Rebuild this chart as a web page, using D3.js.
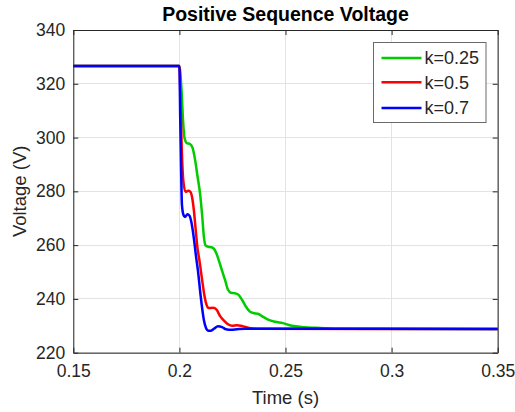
<!DOCTYPE html>
<html>
<head>
<meta charset="utf-8">
<script src="https://cdn.jsdelivr.net/npm/d3@7"></script>
<style>
  body { margin: 0; background: #fff; }
  text { font-family: "Liberation Sans", Arial, sans-serif; fill: #262626; }
</style>
</head>
<body>
<div id="chart"></div>
<script>
// data (time in s, voltage in V)
const tGreen = [0.15, 0.2, 0.2010, 0.2017, 0.2024, 0.2034, 0.2050, 0.2062, 0.2074, 0.2085, 0.2097, 0.2107, 0.2116, 0.2123, 0.2135, 0.2151, 0.2163, 0.2175, 0.2188, 0.2201, 0.2215, 0.2229, 0.2243, 0.2262, 0.2279, 0.2295, 0.2314, 0.2333, 0.2352, 0.2370, 0.2389, 0.2418, 0.2451, 0.2488, 0.2529, 0.2592, 0.2663, 0.2757, 0.35];
const vGreen = [326.6, 326.6, 317.7, 306.6, 299.9, 298.0, 297.6, 296.2, 291.7, 285.8, 279.4, 271.3, 262.7, 259.9, 259.4, 259.2, 258.6, 256.8, 253.8, 250.5, 247.1, 243.4, 242.3, 242.1, 241.5, 239.7, 237.1, 235.2, 234.7, 234.5, 233.6, 232.3, 231.5, 231.0, 230.0, 229.5, 229.2, 228.9, 228.8];

const tRed = [0.15, 0.2, 0.2005, 0.2010, 0.2015, 0.2019, 0.2029, 0.2041, 0.2052, 0.2062, 0.2069, 0.2076, 0.2085, 0.2094, 0.2107, 0.2118, 0.2128, 0.2137, 0.2158, 0.2175, 0.2191, 0.2210, 0.2229, 0.2248, 0.2272, 0.2295, 0.2333, 0.2380, 0.35];
const vRed = [326.6, 326.6, 314.0, 299.1, 288.0, 283.5, 279.8, 280.2, 279.8, 276.8, 272.4, 266.4, 259.0, 254.5, 247.1, 241.2, 237.8, 236.6, 236.7, 236.0, 233.7, 231.9, 230.6, 230.0, 230.2, 229.9, 229.1, 228.9, 228.8];

const tBlue = [0.15, 0.2, 0.2004, 0.2008, 0.2012, 0.2019, 0.2026, 0.2038, 0.2048, 0.2057, 0.2069, 0.2078, 0.2088, 0.2097, 0.2107, 0.2116, 0.2125, 0.2137, 0.2149, 0.2163, 0.2182, 0.2201, 0.2220, 0.2243, 0.2272, 0.2309, 0.35];
const vBlue = [326.6, 326.6, 306.6, 288.0, 275.0, 271.3, 270.5, 271.5, 270.9, 268.3, 262.0, 256.0, 250.1, 243.4, 236.7, 231.9, 229.3, 228.2, 228.2, 228.9, 229.8, 229.5, 228.7, 228.5, 228.7, 228.9, 228.8];

const seriesNames = ["k=0.25", "k=0.5", "k=0.7"];
const seriesColors = ["#00cc00", "#ff0000", "#0000ff"];

const xTicks = [0.15, 0.2, 0.25, 0.3, 0.35];
const xTickLabels = ["0.15", "0.2", "0.25", "0.3", "0.35"];
const yTicks = [220, 240, 260, 280, 300, 320, 340];

const W = 515, H = 412;
const margin = { top: 30, right: 17.3, bottom: 59.3, left: 73.3 };
const width = W - margin.left - margin.right;
const height = H - margin.top - margin.bottom;

const svg = d3.select("#chart")
  .append("svg")
  .attr("width", W)
  .attr("height", H);

const g = svg.append("g")
  .attr("transform", `translate(${margin.left},${margin.top})`);

const x = d3.scaleLinear().domain([0.15, 0.35]).range([0, width]);
const y = d3.scaleLinear().domain([220, 340]).range([height, 0]);

// grid
g.append("g")
  .selectAll("line.gx")
  .data(xTicks)
  .enter().append("line")
  .attr("x1", d => x(d)).attr("x2", d => x(d))
  .attr("y1", 0).attr("y2", height)
  .attr("stroke", "#e3e3e3").attr("stroke-width", 1)
  .attr("shape-rendering", "crispEdges");

g.append("g")
  .selectAll("line.gy")
  .data(yTicks)
  .enter().append("line")
  .attr("x1", 0).attr("x2", width)
  .attr("y1", d => y(d)).attr("y2", d => y(d))
  .attr("stroke", "#e3e3e3").attr("stroke-width", 1)
  .attr("shape-rendering", "crispEdges");

// curves
const series = [
  { t: tGreen, v: vGreen },
  { t: tRed, v: vRed },
  { t: tBlue, v: vBlue }
];

const line = d3.line()
  .x(d => x(d[0]))
  .y(d => y(d[1]))
  .curve(d3.curveMonotoneX);

series.forEach((s, i) => {
  const pts = s.t.map((t, j) => [t, s.v[j]]);
  g.append("path")
    .datum(pts)
    .attr("fill", "none")
    .attr("stroke", seriesColors[i])
    .attr("stroke-width", 2.5)
    .attr("stroke-linejoin", "round")
    .attr("d", line);
});

// axes (box with inward ticks on all sides)
const tickLen = 5;
function styleAxis(sel) {
  sel.select(".domain").attr("stroke", "#262626");
  sel.selectAll(".tick line").attr("stroke", "#262626");
  sel.selectAll(".tick text")
    .style("font-size", "17.5px")
    .attr("fill", "#262626");
}

g.append("g")
  .attr("transform", `translate(0,${height})`)
  .call(d3.axisBottom(x).tickValues(xTicks).tickFormat((d, i) => xTickLabels[i])
    .tickSizeInner(-tickLen).tickSizeOuter(0).tickPadding(12))
  .call(styleAxis);

g.append("g")
  .call(d3.axisLeft(y).tickValues(yTicks).tickFormat(d3.format("d"))
    .tickSizeInner(-tickLen).tickSizeOuter(0).tickPadding(8))
  .call(styleAxis);

g.append("g")
  .call(d3.axisTop(x).tickValues(xTicks).tickFormat("")
    .tickSizeInner(-tickLen).tickSizeOuter(0))
  .call(styleAxis);

g.append("g")
  .attr("transform", `translate(${width},0)`)
  .call(d3.axisRight(y).tickValues(yTicks).tickFormat("")
    .tickSizeInner(-tickLen).tickSizeOuter(0))
  .call(styleAxis);

// title and axis labels
svg.append("text")
  .attr("x", margin.left + width / 2)
  .attr("y", 21)
  .attr("text-anchor", "middle")
  .style("font-size", "19.5px")
  .style("font-weight", "bold")
  .style("fill", "#000")
  .text("Positive Sequence Voltage");

svg.append("text")
  .attr("x", margin.left + width / 2)
  .attr("y", 404)
  .attr("text-anchor", "middle")
  .style("font-size", "18.5px")
  .text("Time (s)");

svg.append("text")
  .attr("transform", `translate(26,${margin.top + height / 2}) rotate(-90)`)
  .attr("text-anchor", "middle")
  .style("font-size", "18.5px")
  .text("Voltage (V)");

// legend
const legend = svg.append("g").attr("transform", "translate(373.5,42.5)");
legend.append("rect")
  .attr("width", 112.5).attr("height", 80)
  .attr("fill", "#fff")
  .attr("stroke", "#6a6a6a").attr("stroke-width", 1);

const rowY = [15.5, 39.8, 65.5];
seriesNames.forEach((name, i) => {
  legend.append("line")
    .attr("x1", 8).attr("x2", 48)
    .attr("y1", rowY[i]).attr("y2", rowY[i])
    .attr("stroke", seriesColors[i]).attr("stroke-width", 2.5);
  legend.append("text")
    .attr("x", 51).attr("y", rowY[i])
    .attr("dy", "0.35em")
    .style("font-size", "18px")
    .text(name);
});
</script>
</body>
</html>
